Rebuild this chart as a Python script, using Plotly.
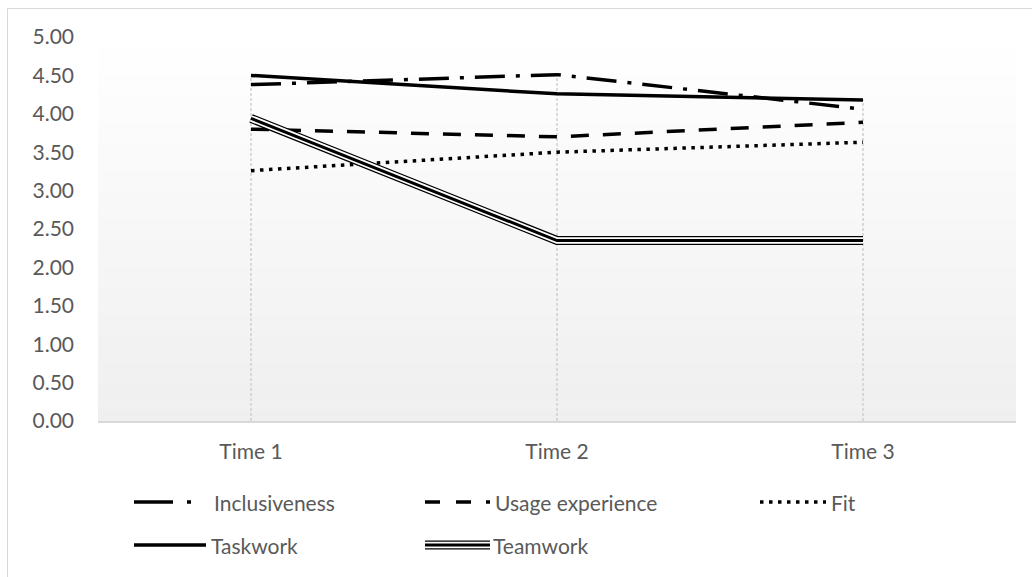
import plotly.graph_objects as go

times = ["Time 1", "Time 2", "Time 3"]
inclusiveness = [4.38, 4.51, 4.06]
usage_experience = [3.80, 3.70, 3.89]
fit = [3.26, 3.50, 3.63]
taskwork = [4.50, 4.26, 4.18]
teamwork = [3.94, 2.35, 2.35]
y_ticks = [0, 0.5, 1, 1.5, 2, 2.5, 3, 3.5, 4, 4.5, 5]

W, H = 1032, 577
L, R, T, B = 98, 1016, 37, 421
FONT = "Lato"
TXT = "#595959"
FS = 21

def px(x):
    return (x - L) / (R - L)

def py(y):
    return (B - y) / (B - T)

fig = go.Figure()

# drop lines from highest series value to the axis
all_series = [inclusiveness, usage_experience, fit, taskwork, teamwork]
dx, dy = [], []
for i, t in enumerate(times):
    dx += [t, t, None]
    dy += [0, max(s[i] for s in all_series), None]
fig.add_trace(go.Scatter(x=dx, y=dy, mode="lines", showlegend=False, hoverinfo="skip",
                         line=dict(color="#cfcfcf", width=1.5, dash="3px,2px")))

fig.add_trace(go.Scatter(x=times, y=inclusiveness, mode="lines", name="Inclusiveness",
                         line=dict(color="black", width=3.5, dash="30px,11px,4px,11px")))
fig.add_trace(go.Scatter(x=times, y=usage_experience, mode="lines", name="Usage experience",
                         line=dict(color="black", width=3.5, dash="18px,14px")))
fig.add_trace(go.Scatter(x=times, y=fit, mode="lines", name="Fit",
                         line=dict(color="black", width=3.5, dash="3.5px,5.5px")))
fig.add_trace(go.Scatter(x=times, y=taskwork, mode="lines", name="Taskwork",
                         line=dict(color="black", width=3.5)))
fig.add_trace(go.Scatter(x=times, y=teamwork, mode="lines", name="Teamwork",
                         line=dict(color="black", width=9)))
fig.add_trace(go.Scatter(x=times, y=teamwork, mode="lines", showlegend=False, hoverinfo="skip",
                         line=dict(color="white", width=6.5)))
fig.add_trace(go.Scatter(x=times, y=teamwork, mode="lines", showlegend=False, hoverinfo="skip",
                         line=dict(color="black", width=3)))

shapes = []
# gradient background
N = 80
for k in range(N):
    f = (k + 0.5) / N
    c = round(255 - (255 - 239) * f)
    shapes.append(dict(type="rect", xref="x domain", yref="y domain", layer="below",
                       x0=0, x1=1, y0=1 - (k + 1) / N, y1=1 - k / N + 0.001,
                       fillcolor=f"rgb({c},{c},{c})", line=dict(width=0)))
# chart frame
shapes.append(dict(type="rect", xref="paper", yref="paper", x0=px(7.5), x1=px(1045),
                   y0=py(590), y1=py(8.5), line=dict(color="#d9d9d9", width=1), fillcolor="rgba(0,0,0,0)"))

# custom legend
annotations = []
def seg(x0, x1, y, width=3.5, color="black", dash="solid"):
    shapes.append(dict(type="line", xref="paper", yref="paper", x0=px(x0), x1=px(x1),
                       y0=py(y), y1=py(y), line=dict(color=color, width=width, dash=dash)))

def label(text, x, y):
    annotations.append(dict(text=text, xref="paper", yref="paper", x=px(x), y=py(y),
                            xanchor="left", yanchor="middle", showarrow=False,
                            font=dict(family=FONT, size=FS, color=TXT)))

r1, r2 = 502, 545
seg(134, 173, r1); seg(187, 191, r1)
label("Inclusiveness", 212, r1)
seg(425, 440, r1); seg(456, 471, r1); seg(486, 490, r1)
label("Usage experience", 493, r1)
seg(760, 826, r1, dash="3.5px,5.5px")
label("Fit", 829, r1)
seg(134, 206, r2)
label("Taskwork", 209, r2)
seg(425, 490, r2, width=9); seg(425, 490, r2, width=6.5, color="white"); seg(425, 490, r2, width=3)
label("Teamwork", 491, r2)

fig.update_layout(
    width=W, height=H,
    margin=dict(l=L, r=W - R, t=T, b=H - B),
    paper_bgcolor="white", plot_bgcolor="white",
    showlegend=False,
    shapes=shapes, annotations=annotations,
    font=dict(family=FONT, size=FS, color=TXT),
    xaxis=dict(type="category", range=[-0.5, 2.5], showgrid=False, zeroline=False,
               showline=True, linecolor="#d9d9d9", linewidth=2, ticks="",
               tickfont=dict(family=FONT, size=FS, color=TXT), ticklabelstandoff=11),
    yaxis=dict(range=[0, 5], tickvals=y_ticks, tickformat=".2f", showgrid=False,
               zeroline=False, showline=False, ticks="",
               tickfont=dict(family=FONT, size=FS, color=TXT), ticklabelstandoff=23),
)

fig.write_html("out.html")
